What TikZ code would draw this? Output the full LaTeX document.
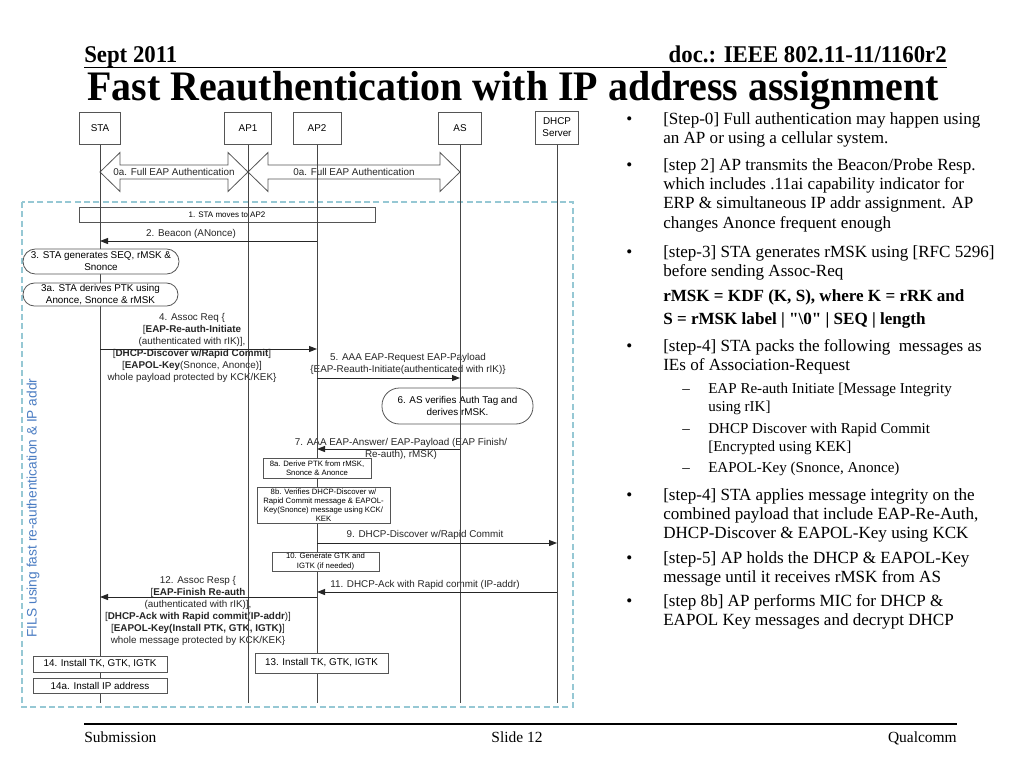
\documentclass[tikz,border=0pt]{standalone}
\usepackage{fontspec}
\setmainfont{Liberation Serif}
\setsansfont{Liberation Sans}
\newfontfamily\titlefont{Liberation Serif}[FakeStretch=0.95]
\newfontfamily\rawserif{Liberation Serif}[Ligatures=TeXOff]
\usetikzlibrary{arrows.meta}
\newcommand\myfs[2]{\fontsize{#1}{#2}\selectfont}
\definecolor{lifeg}{RGB}{70,70,70}
\definecolor{boxg}{RGB}{85,85,85}
\definecolor{dashc}{RGB}{150,200,212}
\definecolor{filsblue}{RGB}{75,125,195}
\tikzset{
  lifehead/.style={draw=boxg, line width=0.75pt, fill=white, inner sep=0pt, minimum height=24pt, font=\sffamily\myfs{7.4}{9}, align=center},
  lifeline/.style={draw=lifeg, line width=0.75pt},
  msg/.style={draw=black!85, line width=0.75pt, -{Triangle[length=6pt,width=4.5pt]}},
  lbl/.style={font=\sffamily\myfs{7.4}{9}, align=center, inner sep=0pt, text=black!85},
  smallbox/.style={draw=boxg, line width=0.6pt, fill=white, inner sep=0pt, font=\sffamily\myfs{5.8}{6.8}, align=center},
  actbox/.style={draw=boxg, line width=0.6pt, fill=white, inner sep=0pt, font=\sffamily\myfs{7.4}{9}, align=center},
  stadium/.style={draw=boxg, line width=0.6pt, inner sep=0pt, font=\sffamily\myfs{7.4}{9}, align=center},
  bigarrow/.style={draw=boxg, line width=0.6pt, fill=white},
  rtext/.style={anchor=base west, inner sep=0pt, font=\myfs{12.8}{15}},
  rsub/.style={anchor=base west, inner sep=0pt, font=\myfs{11.3}{13}},
}
\begin{document}
\begin{tikzpicture}[x=0.75pt,y=-0.75pt]
\useasboundingbox[fill=white] (0,0) rectangle (1024,768);

% header
\node[anchor=base west, inner sep=0pt, font=\titlefont\bfseries\myfs{18}{20}] (hdl) at (84,62) {Sept 2011};
\node[anchor=base east, inner sep=0pt, font=\titlefont\bfseries\myfs{18}{20}] (hdr) at (947,62) {doc.: IEEE 802.11-11/1160r2};
\draw[line width=1.1pt] (84,67.5) -- (947,67.5);
\node[anchor=base, inner sep=0pt, font=\titlefont\bfseries\myfs{31.5}{34}] (title) at (513,100) {Fast Reauthentication with IP address assignment};

% footer
\draw[line width=0.8pt] (84,724) -- (957,724);
\node[anchor=base west, inner sep=0pt, font=\myfs{11.6}{13}] (f1) at (84,742) {Submission};
\node[anchor=base, inner sep=0pt, font=\myfs{11.6}{13}] (f2) at (517,742) {Slide 12};
\node[anchor=base east, inner sep=0pt, font=\myfs{11.6}{13}] (f3) at (957,742) {Qualcomm};

% dashed frame and label
\draw[dashc, line width=0.8pt, dash pattern=on 4.5pt off 2.5pt] (22,202) rectangle (573,707);
\node[rotate=90, inner sep=0pt, text=filsblue, font=\sffamily\myfs{10.3}{12}] (fils) at (33,508) {FILS using fast re-authentication \& IP addr};

% big double arrows
\draw[bigarrow] (100,172) -- (120,152.5) -- (120,165) -- (228,165) -- (228,152.5) -- (248,172) -- (228,191.5) -- (228,179) -- (120,179) -- (120,191.5) -- cycle;
\node[lbl] (a0l) at (174,172) {0a. Full EAP Authentication};
\draw[bigarrow] (248,172) -- (268,152.5) -- (268,165) -- (440,165) -- (440,152.5) -- (460,172) -- (440,191.5) -- (440,179) -- (268,179) -- (268,191.5) -- cycle;
\node[lbl] (a0r) at (354,172) {0a. Full EAP Authentication};

% unfilled boxes
\node[draw=boxg, line width=0.6pt, inner sep=0pt, minimum width=222pt, minimum height=11.25pt, font=\sffamily\myfs{6}{7}] (s1) at (227,214.5) {1. STA moves to AP2};
\node[stadium, minimum width=113.25pt, minimum height=27pt, rounded corners=13pt] (s6) at (457.5,406) {6. AS verifies Auth Tag and\\derives rMSK.};

% message labels
\node[lbl] (l2) at (191,233.5) {2. Beacon (ANonce)};
\node[lbl] (l4) at (192,348) {4. Assoc Req \{\\\relax [\textbf{EAP-Re-auth-Initiate}\\(authenticated with rIK)],\\\relax [\textbf{DHCP-Discover w/Rapid Commit}]\\\relax [\textbf{EAPOL-Key}(Snonce, Anonce)]\\whole payload protected by KCK/KEK\}};
\node[lbl] (l5) at (408,364) {5. AAA EAP-Request EAP-Payload\\\{EAP-Reauth-Initiate(authenticated with rIK)\}};
\node[lbl] (l7) at (401,448.5) {7. AAA EAP-Answer/ EAP-Payload (EAP Finish/\\Re-auth), rMSK)};
\node[lbl] (l9) at (425,535) {9. DHCP-Discover w/Rapid Commit};
\node[lbl] (l11) at (425,585) {11. DHCP-Ack with Rapid commit (IP-addr)};
\node[lbl] (l12) at (198,610.5) {12. Assoc Resp \{\\\relax [\textbf{EAP-Finish Re-auth}\\(authenticated with rIK)],\\\relax [\textbf{DHCP-Ack with Rapid commit}(\textbf{IP-addr})]\\\relax [\textbf{EAPOL-Key(Install PTK, GTK, IGTK)}]\\whole message protected by KCK/KEK\}};

% lifeline heads
\node[lifehead, minimum width=30.75pt] (STA) at (100,128) {STA};
\node[lifehead, minimum width=35.25pt] (AP1) at (248,128) {AP1};
\node[lifehead, minimum width=36pt] (AP2) at (317,128) {AP2};
\node[lifehead, minimum width=32.25pt] (AS) at (460,128) {AS};
\node[lifehead, minimum width=32.25pt, minimum height=24.75pt] (DHCP) at (557,127.5) {DHCP\\Server};

% lifelines
\draw[lifeline] (STA.south) -- (STA |- 0,703);
\draw[lifeline] (AP1.south) -- (AP1 |- 0,703);
\draw[lifeline] (AP2.south) -- (AP2 |- 0,703);
\draw[lifeline] (AS.south) -- (AS |- 0,703);
\draw[lifeline] (DHCP.south) -- (DHCP |- 0,703);

% filled boxes
\node[stadium, fill=white, minimum width=117pt, minimum height=18.75pt, rounded corners=9.3pt] (s3) at (101,261.5) {3. STA generates SEQ, rMSK \&\\Snonce};
\node[stadium, fill=white, minimum width=116.25pt, minimum height=17.25pt, rounded corners=8.6pt] (s3a) at (100.5,294.5) {3a. STA derives PTK using\\Anonce, Snonce \& rMSK};
\node[smallbox, minimum width=81pt, minimum height=15pt] (s8a) at (317,468) {8a. Derive PTK from rMSK,\\Snonce \& Anonce};
\node[smallbox, minimum width=99.75pt, minimum height=27pt] (s8b) at (323.5,505) {8b. Verifies DHCP-Discover w/\\Rapid Commit message \& EAPOL-\\Key(Snonce) message using KCK/\\KEK};
\node[smallbox, minimum width=80.25pt, minimum height=14.25pt] (s10) at (325.5,561.5) {10. Generate GTK and\\IGTK (if needed)};
\node[actbox, minimum width=99.75pt, minimum height=15pt] (s13) at (321.5,663) {13. Install TK, GTK, IGTK};
\node[actbox, minimum width=100.5pt, minimum height=12pt] (s14) at (100,664) {14. Install TK, GTK, IGTK};
\node[actbox, minimum width=100.5pt, minimum height=11.25pt] (s14a) at (100,685.5) {14a. Install IP address};

% messages
\draw[msg] (AP2 |- 0,241) -- (STA |- 0,241);
\draw[msg] (STA |- 0,349) -- (AP2 |- 0,349);
\draw[msg] (AP2 |- 0,378) -- (AS |- 0,378);
\draw[msg] (AS |- 0,449) -- (AP2 |- 0,449);
\draw[msg] (AP2 |- 0,543) -- (DHCP |- 0,543);
\draw[msg] (DHCP |- 0,592) -- (AP2 |- 0,592);
\draw[msg] (AP2 |- 0,597) -- (STA |- 0,597);

% right-hand text
\node[rtext] (b1) at (626,124) {•};
\node[rtext] (t1a) at (663,124) {[Step-0] Full authentication may happen using};
\node[rtext] (t1b) at (663,143) {an AP or using a cellular system.};
\node[rtext] (b2) at (626,170) {•};
\node[rtext] (t2a) at (663,170) {[step 2] AP transmits the Beacon/Probe Resp.};
\node[rtext] (t2b) at (663,189) {which includes .11ai capability indicator for};
\node[rtext] (t2c) at (663,208.5) {ERP \& simultaneous IP addr assignment. AP};
\node[rtext] (t2d) at (663,228) {changes Anonce frequent enough};
\node[rtext] (b3) at (626,257) {•};
\node[rtext] (t3a) at (663,257) {[step-3] STA generates rMSK using [RFC 5296]};
\node[rtext] (t3b) at (663,276) {before sending Assoc-Req};
\node[rtext, font=\bfseries\myfs{12.8}{15}] (t3c) at (663,301) {rMSK = KDF (K, S), where K = rRK and};
\node[rtext, font=\rawserif\bfseries\myfs{12.8}{15}] (t3d) at (663,324) {S = rMSK label | "\textbackslash 0" | SEQ | length};
\node[rtext] (b4) at (626,351) {•};
\node[rtext] (t4a) at (663,351) {[step-4] STA packs the following\ \ messages as};
\node[rtext] (t4b) at (663,370) {IEs of Association-Request};
\node[rsub] (d1) at (682,393) {–};
\node[rsub] (u1a) at (708,393) {EAP Re-auth Initiate [Message Integrity};
\node[rsub] (u1b) at (708,411) {using rIK]};
\node[rsub] (d2) at (682,433) {–};
\node[rsub] (u2a) at (708,433) {DHCP Discover with Rapid Commit};
\node[rsub] (u2b) at (708,451) {[Encrypted using KEK]};
\node[rsub] (d3) at (682,472) {–};
\node[rsub] (u3a) at (708,472) {EAPOL-Key (Snonce, Anonce)};
\node[rtext] (b5) at (626,500) {•};
\node[rtext] (t5a) at (663,500) {[step-4] STA applies message integrity on the};
\node[rtext] (t5b) at (663,519) {combined payload that include EAP-Re-Auth,};
\node[rtext] (t5c) at (663,538) {DHCP-Discover \& EAPOL-Key using KCK};
\node[rtext] (b6) at (626,563) {•};
\node[rtext] (t6a) at (663,563) {[step-5] AP holds the DHCP \& EAPOL-Key};
\node[rtext] (t6b) at (663,582) {message until it receives rMSK from AS};
\node[rtext] (b7) at (626,606) {•};
\node[rtext] (t7a) at (663,606) {[step 8b] AP performs MIC for DHCP \&};
\node[rtext] (t7b) at (663,625) {EAPOL Key messages and decrypt DHCP};
\end{tikzpicture}
\end{document}
